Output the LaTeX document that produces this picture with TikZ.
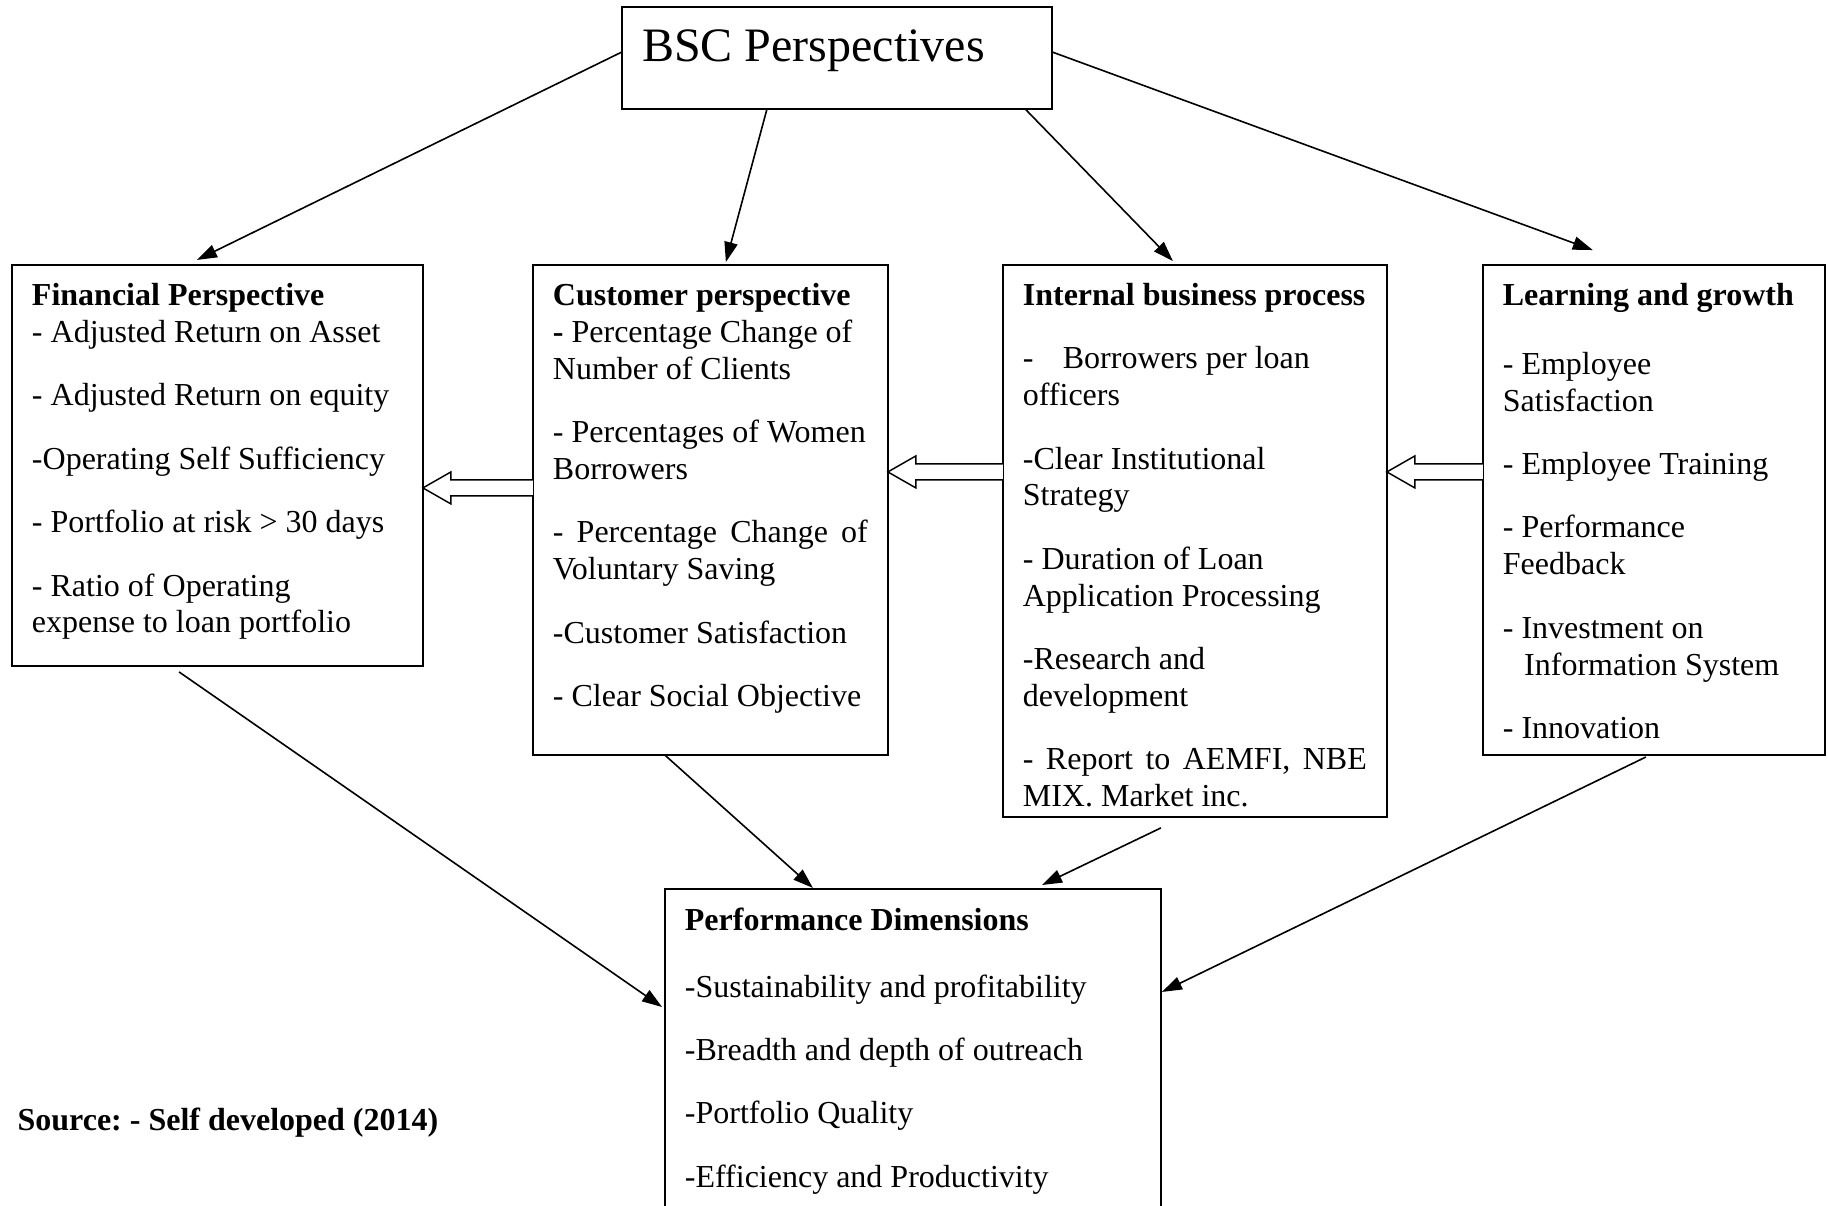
\documentclass[tikz,border=0pt]{standalone}
\usepackage{fontspec}
\setmainfont{Liberation Serif}
\usetikzlibrary{positioning}
\usetikzlibrary{calc}
\usetikzlibrary{arrows.meta}
\hyphenpenalty=10000
\exhyphenpenalty=10000
\frenchspacing

\begin{document}
\begin{tikzpicture}[
    panel/.style={draw, line width=0.55pt, outer sep=0pt, inner xsep=7.5pt, inner ysep=0pt,
      align=flush left, font=\fontsize{12pt}{13.8pt}\selectfont, text height=15.15pt},
    link/.style={-{Triangle[length=7.5pt,width=5pt]}, line width=0.6pt},
    hollow/.style={fill=white, line width=0.55pt}
  ]
  \path[use as bounding box] (0,0) rectangle (685.5pt,-452.25pt);
  \clip (0,0) rectangle (685.5pt,-452.25pt);

  % top box
  \node[panel, anchor=north west, font=\fontsize{18pt}{20.7pt}\selectfont,
        text width=146.25pt, text height=20.6pt, text depth=17.6pt] (bsc) at (233.25pt,-2.625pt) {BSC Perspectives};

  % the four perspectives
  \node[panel, anchor=north west, text width=139.1pt, text depth=135.2pt] (fin) at (4.5pt,-99.375pt)
    {\textbf{Financial Perspective}\\
     - Adjusted Return on Asset\\[10pt]
     - Adjusted Return on equity\\[10pt]
     -Operating Self Sufficiency\\[10pt]
     - Portfolio at risk > 30 days\\[10pt]
     - Ratio of Operating\\
     expense to loan portfolio};
  \node[panel, below right=0pt and 41.25pt of fin.north east, text width=118.1pt, text depth=168.6pt] (cust)
    {\textbf{Customer perspective}\\
     \textbf{-} Percentage Change of\\
     Number of Clients\\[10pt]
     - Percentages of Women\\
     Borrowers\\[10pt]
     \makebox[\hsize][s]{- Percentage Change of}\\
     Voluntary Saving\\[10pt]
     -Customer Satisfaction\\[10pt]
     - Clear Social Objective};
  \node[panel, below right=0pt and 43.125pt of cust.north east, text width=129pt, text depth=191.85pt] (intl)
    {\textbf{Internal business process}\\[10pt]
     - \hspace{8pt}Borrowers per loan\\
     officers\\[10pt]
     -Clear Institutional\\
     Strategy\\[10pt]
     - Duration of Loan\\
     Application Processing\\[10pt]
     -Research and\\
     development\\[10pt]
     \makebox[\hsize][s]{- Report to AEMFI, NBE}\\
     MIX. Market inc.};
  \node[panel, below right=0pt and 36pt of intl.north east, text width=113.25pt, text depth=168.6pt] (learn)
    {\textbf{Learning and growth}\\[12pt]
     - Employee\\
     Satisfaction\\[10pt]
     - Employee Training\\[10pt]
     - Performance\\
     Feedback\\[10pt]
     - Investment on\\
     \hspace*{8pt}Information System\\[10pt]
     - Innovation};

  % bottom box
  \node[panel, below right=50.25pt and 49.5pt of cust.south west, text width=171pt,
        text height=15.4pt, text depth=112.5pt] (perf)
    {\textbf{Performance Dimensions}\\[11.3pt]
     -Sustainability and profitability\\[10pt]
     -Breadth and depth of outreach\\[10pt]
     -Portfolio Quality\\[10pt]
     -Efficiency and Productivity};

  \node[anchor=base west, inner sep=0pt, font=\fontsize{12pt}{13.8pt}\selectfont\bfseries] (source)
    at (6.4pt,-424.1pt) {Source: - Self developed (2014)};

  \draw[link] ([yshift=2.25pt]bsc.west) -- ([xshift=-7.7pt,yshift=1.9pt]fin.north);
  \draw[link] ([xshift=-26.25pt]bsc.south) -- ([xshift=5.8pt,yshift=1.1pt]cust.north);
  \draw[link] ([xshift=-10.1pt]bsc.south east) -- ([xshift=-8.25pt,yshift=1.5pt]intl.north);
  \draw[link] ([yshift=2.25pt]bsc.east) -- ([xshift=-22.9pt,yshift=5.6pt]learn.north);

  \draw[link] ([xshift=-14.4pt,yshift=-2.25pt]fin.south) -- ([xshift=-1.1pt,yshift=-44.25pt]perf.north west);
  \draw[link] ([xshift=-17.1pt]cust.south) -- ([xshift=55.5pt,yshift=0.4pt]perf.north west);
  \draw[link] ([xshift=-12.75pt,yshift=-4.1pt]intl.south) -- ([xshift=-44.6pt,yshift=1.5pt]perf.north east);
  \draw[link] ([xshift=-3pt,yshift=-0.75pt]learn.south) -- ([xshift=0.4pt,yshift=-38.6pt]perf.north east);

  % hollow arrows between the perspectives
  \foreach \src/\dst/\dy in {cust/fin/83.6pt, intl/cust/77.6pt, learn/intl/77.6pt} {
    \coordinate (\src_tail) at ([yshift=-\dy]\src.north west);
    \coordinate (\src_tip) at (\src_tail -| \dst.east);
    \filldraw[hollow] ($(\src_tail)+(0,3pt)$) -- ($(\src_tip)+(10.5pt,3pt)$) -- ($(\src_tip)+(10.5pt,6pt)$)
      -- (\src_tip) -- ($(\src_tip)+(10.5pt,-6pt)$) -- ($(\src_tip)+(10.5pt,-3pt)$) -- ($(\src_tail)+(0,-3pt)$);
  }
\end{tikzpicture}
\end{document}
